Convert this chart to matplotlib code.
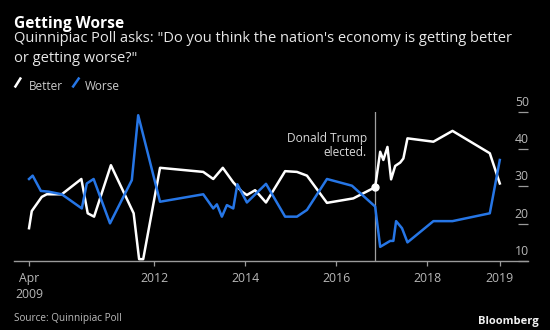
import matplotlib
matplotlib.use("Agg")
import matplotlib.pyplot as plt
from matplotlib.lines import Line2D

plt.rcParams['font.family'] = ['Open Sans', 'DejaVu Sans']

# poll dates as decimal years, share of respondents in percent
better_dates = [2009.25, 2009.31, 2009.53, 2009.64, 2009.97, 2010.40, 2010.54, 2010.68,
                2011.05, 2011.55, 2011.67, 2011.76, 2012.13, 2013.08, 2013.30, 2013.51,
                2013.74, 2013.93, 2014.04, 2014.22, 2014.46, 2014.88, 2015.14, 2015.36,
                2015.80, 2016.38, 2016.86, 2016.97, 2017.04, 2017.13, 2017.21, 2017.30,
                2017.41, 2017.48, 2017.57, 2018.14, 2018.56, 2019.38, 2019.60]
better_pct = [18.8, 23.4, 27.2, 27.9, 27.9, 32.0, 22.8, 21.9,
              35.7, 22.8, 10.5, 10.5, 35.0, 33.9, 32.0, 35.0,
              31.1, 28.6, 27.7, 29.0, 25.7, 34.1, 33.9, 32.9,
              25.6, 26.8, 29.8, 39.3, 37.1, 40.6, 31.9, 35.5,
              36.4, 37.5, 42.9, 42.0, 44.9, 38.9, 30.8]

worse_dates = [2009.25, 2009.33, 2009.51, 2009.68, 2009.97, 2010.41, 2010.52, 2010.67,
               2011.03, 2011.51, 2011.65, 2012.13, 2013.08, 2013.30, 2013.38, 2013.49,
               2013.60, 2013.74, 2013.83, 2014.04, 2014.46, 2014.88, 2015.14, 2015.36,
               2015.80, 2016.35, 2016.86, 2016.97, 2017.19, 2017.26, 2017.32, 2017.45,
               2017.57, 2018.14, 2018.56, 2019.38, 2019.60]
worse_pct = [32.0, 32.9, 28.8, 28.6, 27.9, 24.1, 30.8, 32.0,
             20.1, 31.7, 49.1, 25.9, 27.9, 24.1, 25.2, 21.9,
             25.0, 24.1, 30.6, 25.7, 30.7, 21.9, 21.9, 23.7,
             32.0, 30.2, 24.6, 13.8, 15.4, 15.4, 20.7, 18.8,
             15.0, 20.7, 20.7, 22.8, 37.1]

election_date = 2016.86
election_better = 29.8

x_ticks = [2009.25, 2012, 2014, 2016, 2018, 2019.6]
x_labels = ['Apr\n2009', '2012', '2014', '2016', '2018', '2019']
y_ticks = [10, 20, 30, 40, 50]

BG = 'black'
WHITE = '#ffffff'
BLUE = '#2676e6'
GREY = '#b8b8b8'

fig = plt.figure(figsize=(5.5, 3.3), dpi=100, facecolor=BG)
ax = fig.add_axes([0.0255, 0.209, 0.9345, 0.452], facecolor=BG)

ax.axvline(election_date, color='#a0a0a0', lw=0.9, zorder=1)
ax.plot(better_dates, better_pct, color=WHITE, lw=1.8, clip_on=False, zorder=3)
ax.plot(worse_dates, worse_pct, color=BLUE, lw=1.8, clip_on=False, zorder=4)
ax.plot([election_date], [election_better], 'o', color=WHITE, ms=5, zorder=5)

ax.annotate('Donald Trump\nelected.', xy=(election_date, 41), xytext=(-6, 0),
            textcoords='offset points', ha='right', va='center',
            color='#d8d8d8', fontsize=8.6, linespacing=1.15)

ax.set_xlim(2008.92, 2020.22)
ax.set_ylim(10, 50)
for s in ['top', 'left', 'right']:
    ax.spines[s].set_visible(False)
ax.spines['bottom'].set_color('#9a9a9a')
ax.spines['bottom'].set_linewidth(1.0)

ax.set_xticks(x_ticks)
ax.set_xticklabels(x_labels, linespacing=1.25)
ax.tick_params(axis='x', colors='#9a9a9a', length=3.5, width=0.9, pad=4.5,
               labelcolor=GREY, labelsize=8.8)
for lbl in ax.get_xticklabels():
    lbl.set_verticalalignment('top')
ax.get_xticklabels()[0].set_horizontalalignment('center')

# right hand value axis: short tick lines with labels sitting on top of them
ax.yaxis.tick_right()
ax.set_yticks(y_ticks)
ax.tick_params(axis='y', direction='in', length=7, width=0.9, colors='#9a9a9a',
               labelright=False)
for v in y_ticks:
    ax.annotate(str(v), xy=(1, v), xycoords=ax.get_yaxis_transform(),
                xytext=(-4.5, 2.2), textcoords='offset points',
                ha='center', va='bottom', color=GREY, fontsize=8.8)

# header
fig.text(0.0255, 0.915, 'Getting Worse', color=WHITE, fontsize=11.2,
         fontweight='bold', va='baseline')
fig.text(0.0255, 0.873,
         'Quinnipiac Poll asks: "Do you think the nation\'s economy is getting better',
         color='#e8e8e8', fontsize=10.5, va='baseline')
fig.text(0.0255, 0.813, 'or getting worse?"', color='#e8e8e8', fontsize=10.5,
         va='baseline')

# legend with slash markers
fig.add_artist(Line2D([0.028, 0.037], [0.738, 0.762], color=WHITE, lw=1.8,
                      transform=fig.transFigure))
fig.text(0.053, 0.727, 'Better', color='#cccccc', fontsize=8.5, va='baseline')
fig.add_artist(Line2D([0.133, 0.143], [0.738, 0.762], color=BLUE, lw=1.8,
                      transform=fig.transFigure))
fig.text(0.155, 0.727, 'Worse', color='#cccccc', fontsize=8.5, va='baseline')

# footer
fig.text(0.0255, 0.028, 'Source: Quinnipiac Poll', color='#bbbbbb', fontsize=7.2,
         va='baseline')
fig.text(0.98, 0.018, 'Bloomberg', color='#f0f0f0', fontsize=8, fontweight='bold',
         ha='right', va='baseline')

fig.savefig('out.png', dpi=100, facecolor=BG)
